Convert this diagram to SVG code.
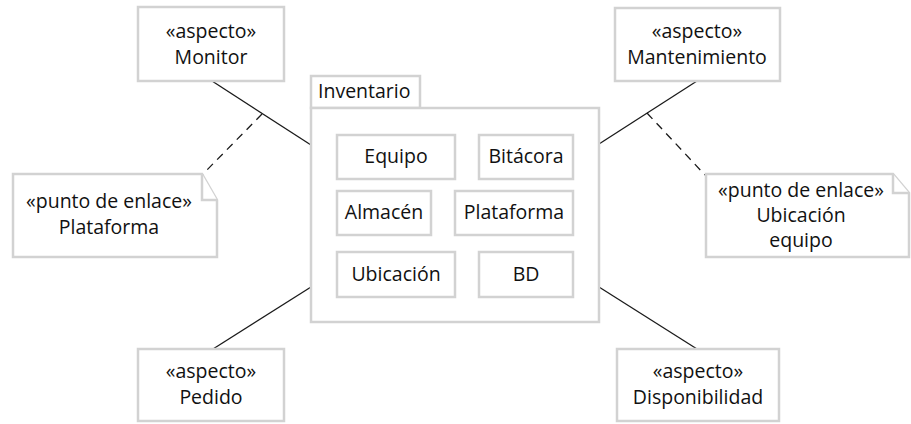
<svg xmlns="http://www.w3.org/2000/svg" width="911" height="424" viewBox="0 0 911 424">
<style>
.box{fill:#fff;stroke:#d2d2d2;stroke-width:2.5}
.t{font-family:"Open Sans","Noto Sans",sans-serif;font-size:19.5px;fill:#111;text-anchor:middle}
.ln{stroke:#1a1a1a;stroke-width:1.3;fill:none}
.dash{stroke:#1a1a1a;stroke-width:1.3;fill:none;stroke-dasharray:8 6}
</style>
<rect width="911" height="424" fill="#fff"/>
<g id="connectors">
<line class="ln" x1="212" y1="81" x2="311" y2="145"/>
<line class="ln" x1="697" y1="81" x2="599" y2="144"/>
<line class="ln" x1="213" y1="349" x2="311" y2="287"/>
<line class="ln" x1="697" y1="349" x2="599" y2="287"/>
<line class="dash" x1="262" y1="114" x2="203" y2="174"/>
<line class="dash" x1="647" y1="113" x2="705" y2="175"/>
</g>
<g id="inventario">
<rect class="box" x="311" y="76" width="109" height="32"/>
<rect class="box" x="311" y="108" width="288" height="214"/>
<text class="t" x="318" y="98" style="text-anchor:start">Inventario</text>
</g>
<g id="equipo"><rect class="box" x="337" y="135" width="118" height="44"/><text class="t" x="396" y="163">Equipo</text></g>
<g id="bitacora"><rect class="box" x="479" y="135" width="94" height="44"/><text class="t" x="526" y="163">Bitácora</text></g>
<g id="almacen"><rect class="box" x="337" y="191" width="94" height="44"/><text class="t" x="384" y="219">Almacén</text></g>
<g id="plataforma"><rect class="box" x="455" y="191" width="118" height="44"/><text class="t" x="514" y="219">Plataforma</text></g>
<g id="ubicacion"><rect class="box" x="337" y="252" width="118" height="45"/><text class="t" x="396" y="281">Ubicación</text></g>
<g id="bd"><rect class="box" x="479" y="252" width="94" height="45"/><text class="t" x="526" y="281">BD</text></g>
<g id="monitor"><rect class="box" x="138" y="7" width="146" height="74"/><text class="t" x="211" y="38">«aspecto»</text><text class="t" x="211" y="64">Monitor</text></g>
<g id="mantenimiento"><rect class="box" x="615" y="8" width="165" height="73"/><text class="t" x="697" y="38">«aspecto»</text><text class="t" x="697" y="64">Mantenimiento</text></g>
<g id="pedido"><rect class="box" x="138" y="349" width="146" height="72"/><text class="t" x="211" y="378">«aspecto»</text><text class="t" x="211" y="404">Pedido</text></g>
<g id="disponibilidad"><rect class="box" x="617" y="349" width="162" height="72"/><text class="t" x="698" y="378">«aspecto»</text><text class="t" x="698" y="404">Disponibilidad</text></g>
<g id="nota-plataforma">
<path class="box" d="M13,174 H202 L217,200 V257 H13 Z"/>
<path class="box" d="M202,174 V200 H217" fill="none"/>
<text class="t" x="109" y="208">«punto de enlace»</text>
<text class="t" x="109" y="234">Plataforma</text>
</g>
<g id="nota-ubicacion">
<path class="box" d="M706,174 H893 L909,193 V257 H706 Z"/>
<path class="box" d="M893,174 V193 H909" fill="none"/>
<text class="t" x="801" y="197">«punto de enlace»</text>
<text class="t" x="801" y="222">Ubicación</text>
<text class="t" x="801" y="247">equipo</text>
</g>
</svg>
